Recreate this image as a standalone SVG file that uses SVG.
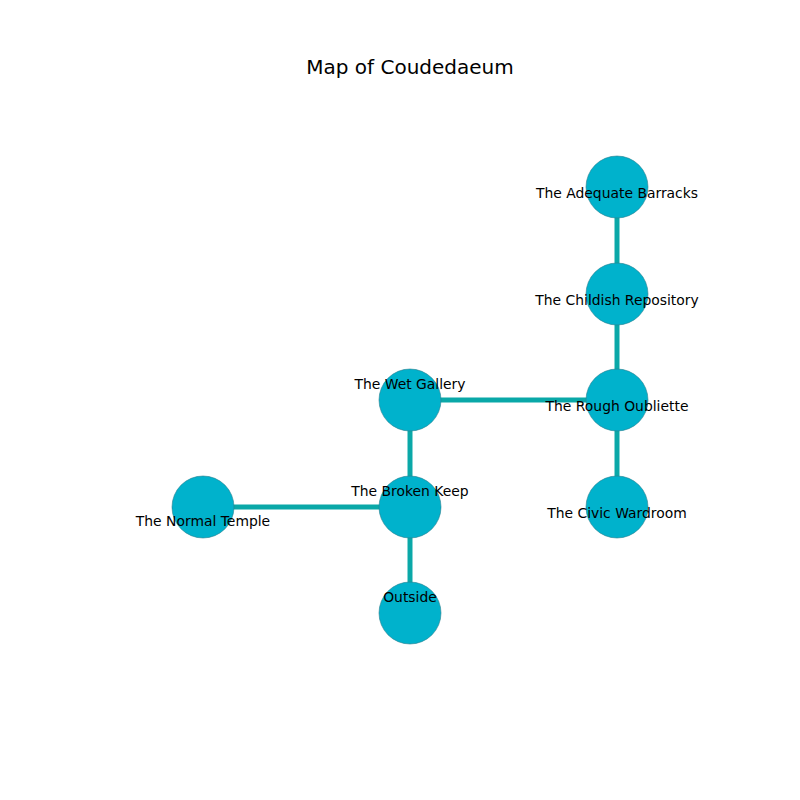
<svg xmlns="http://www.w3.org/2000/svg" width="800" height="800" viewBox="0 0 800 800">
<style>
.e{stroke:#0aa8a8;stroke-width:5;fill:none}
.n{fill:#00b2cc;stroke:#2a7f8f;stroke-width:0.6}
.l{font-family:"DejaVu Sans",sans-serif;font-size:13.9px;fill:#000;text-anchor:middle;dominant-baseline:central}
.t{font-family:"DejaVu Sans",sans-serif;font-size:20px;fill:#000;text-anchor:middle;dominant-baseline:central}
</style>
<rect width="800" height="800" fill="#fff"/>
<text class="t" x="410" y="67">Map of Coudedaeum</text>
<g id="edges">
<line class="e" x1="617" y1="187" x2="617" y2="294"/>
<line class="e" x1="617" y1="294" x2="617" y2="400"/>
<line class="e" x1="617" y1="400" x2="617" y2="507"/>
<line class="e" x1="410" y1="400" x2="617" y2="400"/>
<line class="e" x1="410" y1="400" x2="410" y2="507"/>
<line class="e" x1="203" y1="507" x2="410" y2="507"/>
<line class="e" x1="410" y1="507" x2="410" y2="613"/>
</g>
<g id="adequate"><circle class="n" cx="617" cy="187" r="31"/><text class="l" x="617" y="193">The Adequate Barracks</text></g>
<g id="childish"><circle class="n" cx="617" cy="294" r="31"/><text class="l" x="617" y="300">The Childish Repository</text></g>
<g id="rough"><circle class="n" cx="617" cy="400" r="31"/><text class="l" x="617" y="406">The Rough Oubliette</text></g>
<g id="civic"><circle class="n" cx="617" cy="507" r="31"/><text class="l" x="617" y="513">The Civic Wardroom</text></g>
<g id="wet"><circle class="n" cx="410" cy="400" r="31"/><text class="l" x="410" y="384">The Wet Gallery</text></g>
<g id="broken"><circle class="n" cx="410" cy="507" r="31"/><text class="l" x="410" y="491">The Broken Keep</text></g>
<g id="normal"><circle class="n" cx="203" cy="507" r="31"/><text class="l" x="203" y="521">The Normal Temple</text></g>
<g id="outside"><circle class="n" cx="410" cy="613" r="31"/><text class="l" x="410" y="597">Outside</text></g>
</svg>
